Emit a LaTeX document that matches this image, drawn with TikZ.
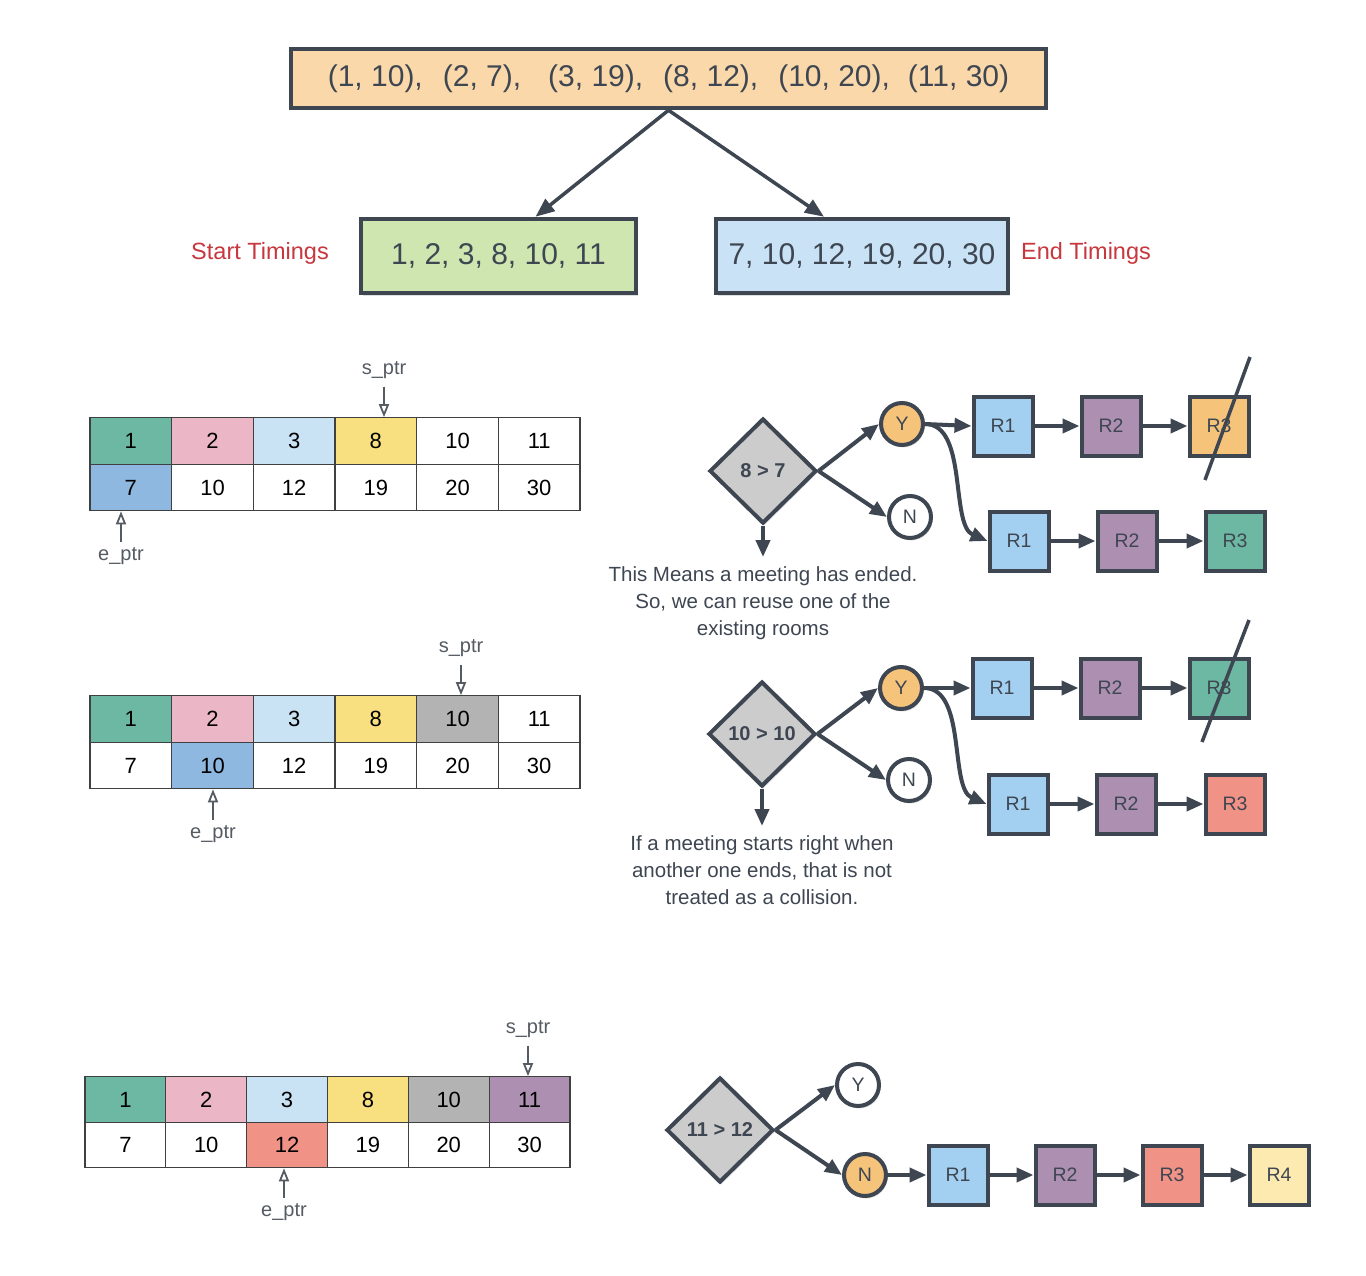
\documentclass[tikz,border=0pt]{standalone}
\usepackage{fontspec}
\setmainfont{Liberation Sans}
\usetikzlibrary{shapes.geometric,arrows.meta,shadows,calc}
\definecolor{ink}{HTML}{3E4652}
\definecolor{peach}{HTML}{FAD8AA}
\definecolor{lgreen}{HTML}{D0E6B1}
\definecolor{lblue}{HTML}{C9E2F5}
\definecolor{redtxt}{HTML}{C8373D}
\definecolor{cteal}{HTML}{6DB8A2}
\definecolor{cpink}{HTML}{EBB7C7}
\definecolor{clblue}{HTML}{C9E2F4}
\definecolor{cyellow}{HTML}{F8DF80}
\definecolor{cgray}{HTML}{B3B3B3}
\definecolor{cpurple}{HTML}{AD90B1}
\definecolor{csalmon}{HTML}{F09285}
\definecolor{cblue}{HTML}{8EB8E0}
\definecolor{rblue}{HTML}{A3D0F0}
\definecolor{rorange}{HTML}{F6C37B}
\definecolor{ryellow}{HTML}{FDEAB0}
\definecolor{dgray}{HTML}{CCCCCC}
\definecolor{tline}{HTML}{404040}
\definecolor{pgray}{HTML}{555B63}
\begin{document}
\begin{tikzpicture}[x=1pt,y=-1pt,
  shade/.style={drop shadow={shadow xshift=1.5pt,shadow yshift=-2.5pt,opacity=0.12,fill=black}},
  bigbox/.style={draw=ink,line width=4.5pt,inner sep=0pt,text=ink,shade},
  room/.style={draw=ink,line width=4pt,minimum width=59pt,minimum height=59pt,inner sep=0pt,text=ink,font=\fontsize{19.5}{22}\selectfont,shade},
  dec/.style={diamond,draw=ink,fill=dgray,line width=4pt,minimum width=107pt,minimum height=105pt,inner sep=0pt,text=ink,font=\bfseries\fontsize{20}{22}\selectfont,shade},
  yn/.style={circle,draw=ink,line width=4pt,minimum size=42pt,inner sep=0pt,text=ink,font=\fontsize{19.5}{22}\selectfont,shade},
  conn/.style={draw=ink,line width=4pt,-{Triangle[length=17pt,width=14pt]}},
  topconn/.style={draw=ink,line width=3.5pt,-{Triangle[length=19pt,width=15pt]}},
  cella/.style={draw=tline,line width=1.2pt,minimum width=81.67pt,minimum height=46.5pt,inner sep=0pt,font=\fontsize{22}{24}\selectfont},
  cellb/.style={draw=tline,line width=1.2pt,minimum width=80.83pt,minimum height=45.5pt,inner sep=0pt,font=\fontsize{22}{24}\selectfont},
  ptr/.style={draw=pgray,line width=2.2pt,-{Triangle[open,length=13pt,width=10pt,line width=1.8pt]}},
  ptrlabel/.style={text=pgray,font=\fontsize{20}{22}\selectfont,inner sep=1pt},
  caption/.style={align=center,text=ink,font=\fontsize{20.5}{27}\selectfont,inner sep=0pt},
  redlabel/.style={text=redtxt,font=\fontsize{23.5}{26}\selectfont},
  strike/.style={draw=ink,line width=3.5pt}
]
\fill[white] (0,0) rectangle (1366,1276);
\useasboundingbox (0,0) rectangle (1366,1276);

% ---- top part
\node[bigbox,fill=peach,minimum width=755pt,minimum height=59pt,font=\fontsize{30}{36}\selectfont] (pairs) at (668.5,78.5)
 {(1, 10),\hspace{20pt}(2, 7),\hspace{27pt}(3, 19),\hspace{20pt}(8, 12),\hspace{20pt}(10, 20),\hspace{18pt}(11, 30)};
\node[bigbox,fill=lgreen,minimum width=275pt,minimum height=74pt,font=\fontsize{30}{36}\selectfont] (starts) at (498.5,256) {1, 2, 3, 8, 10, 11};
\node[bigbox,fill=lblue,minimum width=292pt,minimum height=74pt,font=\fontsize{30}{36}\selectfont] (ends) at (862,256) {7, 10, 12, 19, 20, 30};
\node[redlabel] (startlbl) at (260,253) {Start Timings};
\node[redlabel] (endlbl) at (1086,253) {End Timings};
\draw[topconn] (pairs.south) -- ([xshift=37pt]starts.north);
\draw[topconn] (pairs.south) -- ([xshift=-38pt]ends.north);

% ---- table 1
\foreach \v/\c [count=\i] in {1/cteal,2/cpink,3/clblue,8/cyellow,10/white,11/white}
  \node[cella,fill=\c] (ta-s\i) at ({90+(\i-0.5)*81.67},441) {\v};
\foreach \v/\c [count=\i] in {7/cblue,10/white,12/white,19/white,20/white,30/white}
  \node[cella,fill=\c] (ta-e\i) at ({90+(\i-0.5)*81.67},487.5) {\v};
\node[ptrlabel] (spa) at (384,370) {s\_ptr};
\draw[ptr,shorten <=7pt] (spa.south) -- (spa.south |- ta-s4.north);
\node[ptrlabel] (epa) at (121,556) {e\_ptr};
\draw[ptr,shorten <=4pt] (epa.north) -- (epa.north |- ta-e1.south);

% ---- table 2
\foreach \v/\c [count=\i] in {1/cteal,2/cpink,3/clblue,8/cyellow,10/cgray,11/white}
  \node[cella,fill=\c] (tb-s\i) at ({90+(\i-0.5)*81.67},719) {\v};
\foreach \v/\c [count=\i] in {7/white,10/cblue,12/white,19/white,20/white,30/white}
  \node[cella,fill=\c] (tb-e\i) at ({90+(\i-0.5)*81.67},765.5) {\v};
\node[ptrlabel] (spb) at (461,648) {s\_ptr};
\draw[ptr,shorten <=7pt] (spb.south) -- (spb.south |- tb-s5.north);
\node[ptrlabel] (epb) at (213,834) {e\_ptr};
\draw[ptr,shorten <=4pt] (epb.north) -- (epb.north |- tb-e2.south);

% ---- table 3
\foreach \v/\c [count=\i] in {1/cteal,2/cpink,3/clblue,8/cyellow,10/cgray,11/cpurple}
  \node[cellb,fill=\c] (tc-s\i) at ({85+(\i-0.5)*80.83},1099.5) {\v};
\foreach \v/\c [count=\i] in {7/white,10/white,12/csalmon,19/white,20/white,30/white}
  \node[cellb,fill=\c] (tc-e\i) at ({85+(\i-0.5)*80.83},1145) {\v};
\node[ptrlabel] (spc) at (528,1029) {s\_ptr};
\draw[ptr,shorten <=7pt] (spc.south) -- (spc.south |- tc-s6.north);
\node[ptrlabel] (epc) at (284,1212) {e\_ptr};
\draw[ptr,shorten <=4pt] (epc.north) -- (epc.north |- tc-e3.south);

% ---- decision 1
\node[dec] (d1) at (763,471) {8 > 7};
\node[yn,fill=rorange] (y1) at (902,424) {Y};
\node[yn,fill=white] (n1) at (910,517) {N};
\node[room,fill=rblue] (a1r1) at (1003,426) {R1};
\node[room,fill=cpurple] (a1r2) at (1111,426) {R2};
\node[room,fill=rorange] (a1r3) at (1219,426) {R3};
\node[room,fill=rblue] (b1r1) at (1019,541) {R1};
\node[room,fill=cpurple] (b1r2) at (1127,541) {R2};
\node[room,fill=cteal] (b1r3) at (1235,541) {R3};
\node[caption,anchor=north] (cap1) at (763,566) {This Means a meeting has ended.\\So, we can reuse one of the\\existing rooms};
\draw[conn] (d1.east) -- (y1.west);
\draw[conn] (d1.east) -- (n1.west);
\draw[conn,shorten >=9pt] (d1.south) -- (cap1.north);
\draw[conn] (y1.east) -- (a1r1.west);
\draw[conn] (a1r1.east) -- (a1r2.west);
\draw[conn] (a1r2.east) -- (a1r3.west);
\draw[conn] (y1.east) .. controls (968,424) and (950,525) .. (b1r1.west);
\draw[conn] (b1r1.east) -- (b1r2.west);
\draw[conn] (b1r2.east) -- (b1r3.west);
\draw[strike] (1250,357) -- (1205,480);

% ---- decision 2
\node[dec] (d2) at (762,734) {10 > 10};
\node[yn,fill=rorange] (y2) at (901,688) {Y};
\node[yn,fill=white] (n2) at (909,780) {N};
\node[room,fill=rblue] (a2r1) at (1002,688) {R1};
\node[room,fill=cpurple] (a2r2) at (1110,688) {R2};
\node[room,fill=cteal] (a2r3) at (1219,688) {R3};
\node[room,fill=rblue] (b2r1) at (1018,804) {R1};
\node[room,fill=cpurple] (b2r2) at (1126,804) {R2};
\node[room,fill=csalmon] (b2r3) at (1235,804) {R3};
\node[caption,anchor=north] (cap2) at (762,835) {If a meeting starts right when\\another one ends, that is not\\treated as a collision.};
\draw[conn] (d2.east) -- (y2.west);
\draw[conn] (d2.east) -- (n2.west);
\draw[conn,shorten >=9pt] (d2.south) -- (cap2.north);
\draw[conn] (y2.east) -- (a2r1.west);
\draw[conn] (a2r1.east) -- (a2r2.west);
\draw[conn] (a2r2.east) -- (a2r3.west);
\draw[conn] (y2.east) .. controls (967,688) and (949,788) .. (b2r1.west);
\draw[conn] (b2r1.east) -- (b2r2.west);
\draw[conn] (b2r2.east) -- (b2r3.west);
\draw[strike] (1249,620) -- (1202,742);

% ---- decision 3
\node[dec] (d3) at (720,1130) {11 > 12};
\node[yn,fill=white] (y3) at (858,1085) {Y};
\node[yn,fill=rorange] (n3) at (865,1175) {N};
\node[room,fill=rblue] (c3r1) at (958,1175) {R1};
\node[room,fill=cpurple] (c3r2) at (1065,1175) {R2};
\node[room,fill=csalmon] (c3r3) at (1172,1175) {R3};
\node[room,fill=ryellow] (c3r4) at (1279,1175) {R4};
\draw[conn] (d3.east) -- (y3.west);
\draw[conn] (d3.east) -- (n3.west);
\draw[conn] (n3.east) -- (c3r1.west);
\draw[conn] (c3r1.east) -- (c3r2.west);
\draw[conn] (c3r2.east) -- (c3r3.west);
\draw[conn] (c3r3.east) -- (c3r4.west);
\end{tikzpicture}
\end{document}
